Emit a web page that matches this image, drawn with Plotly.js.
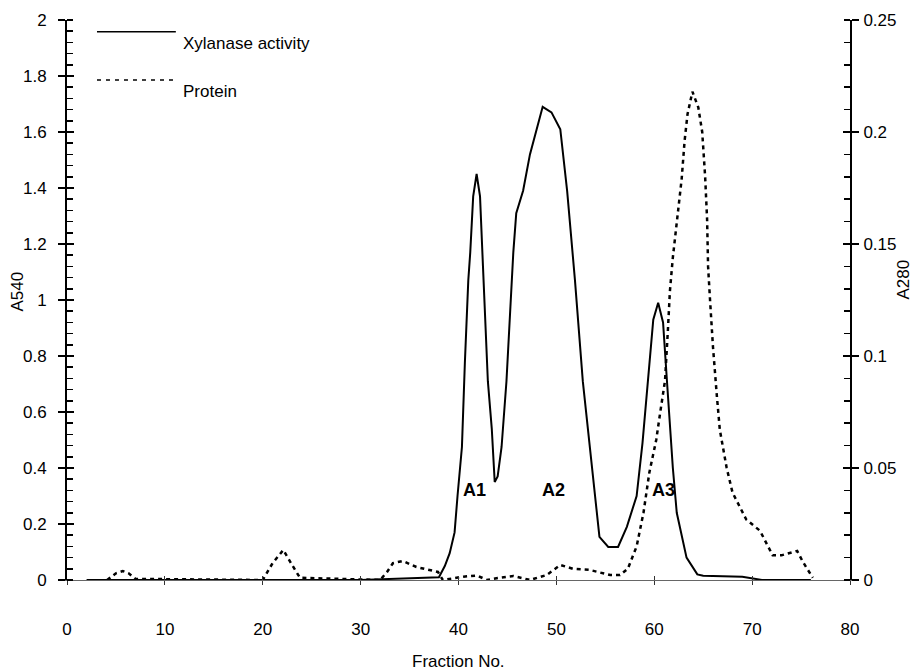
<!DOCTYPE html>
<html>
<head>
<meta charset="utf-8">
<script src="https://cdn.plot.ly/plotly-3.0.1.min.js"></script>
<style>
html,body{margin:0;padding:0;background:#fff;}
#chart{width:913px;height:671px;}
</style>
</head>
<body>
<div id="chart"></div>
<script>
// Xylanase activity (A540), left axis
const activityFraction = [2, 10, 20, 30, 38.0, 38.6, 39.1, 39.6, 39.9, 40.35, 40.65, 41.0, 41.2, 41.5, 41.85, 42.2, 42.5, 43.0, 43.4, 43.7, 44.0, 44.4, 44.9, 45.25, 45.6, 45.9, 46.6, 47.3, 48.0, 48.6, 49.5, 50.4, 51.1, 51.4, 51.9, 52.7, 53.4, 54.1, 54.4, 55.3, 56.3, 57.2, 58.2, 58.8, 59.6, 59.9, 60.4, 60.9, 61.3, 61.9, 62.3, 63.3, 64.4, 65, 69, 71, 76];
const activityA540 = [0, 0, 0, 0, 0.01, 0.05, 0.096, 0.17, 0.30, 0.475, 0.775, 1.07, 1.17, 1.37, 1.45, 1.37, 1.12, 0.71, 0.54, 0.35, 0.37, 0.475, 0.71, 0.95, 1.17, 1.31, 1.39, 1.52, 1.61, 1.69, 1.67, 1.61, 1.39, 1.28, 1.07, 0.71, 0.475, 0.24, 0.154, 0.118, 0.118, 0.19, 0.30, 0.49, 0.83, 0.93, 0.99, 0.92, 0.71, 0.40, 0.24, 0.08, 0.02, 0.015, 0.012, 0, 0];

// Protein (A280), right axis
const proteinFraction = [4.1, 5.0, 5.7, 6.3, 7.0, 20.0, 21.0, 22.1, 23.0, 23.8, 32.0, 32.7, 33.3, 34.3, 35.7, 37.1, 37.9, 38.4, 40.5, 41.9, 42.9, 44.0, 45.6, 47.3, 49.0, 50.4, 51.7, 53.4, 55.5, 56.5, 57.3, 58.2, 58.9, 59.5, 60.2, 60.6, 61.1, 61.4, 61.6, 61.9, 62.4, 62.8, 63.1, 63.4, 63.9, 64.5, 64.9, 65.2, 65.4, 65.5, 65.7, 66.0, 66.4, 66.7, 67.4, 68.0, 69.4, 70.8, 72.1, 73.0, 74.6, 75.2, 76.2];
const proteinA280 = [0, 0.003, 0.004, 0.003, 0.0005, 0, 0.0075, 0.0134, 0.0067, 0.001, 0, 0.0036, 0.0075, 0.0085, 0.0058, 0.0045, 0.0036, 0, 0.0015, 0.002, 0, 0.0009, 0.0018, 0, 0.0022, 0.0067, 0.005, 0.0045, 0.0022, 0.0022, 0.005, 0.015, 0.030, 0.048, 0.0625, 0.0745, 0.089, 0.112, 0.129, 0.144, 0.164, 0.179, 0.196, 0.208, 0.218, 0.211, 0.2, 0.18, 0.161, 0.14, 0.125, 0.104, 0.082, 0.067, 0.050, 0.039, 0.027, 0.022, 0.011, 0.011, 0.013, 0.008, 0.001];

// Peak labels
const peakLabels = ["A1", "A2", "A3"];
const peakLabelX = [41.6, 49.7, 60.9];
const peakLabelY = [0.32, 0.32, 0.32];

const xTicks = [0, 10, 20, 30, 40, 50, 60, 70, 80];
const FONT = "Liberation Sans, Arial, sans-serif";
const FS = 17;

const traces = [
  {x: activityFraction, y: activityA540, type: "scatter", mode: "lines", name: "Xylanase activity",
   line: {color: "#000", width: 2}, yaxis: "y", showlegend: false},
  {x: proteinFraction, y: proteinA280, type: "scatter", mode: "lines", name: "Protein",
   line: {color: "#000", width: 2.5, dash: "4px,4px"}, yaxis: "y2", showlegend: false}
];

const annotations = peakLabels.map((t, i) => ({
  x: peakLabelX[i], y: peakLabelY[i], xref: "x", yref: "y", text: "<b>" + t + "</b>",
  showarrow: false, font: {family: FONT, size: 18, color: "#000"}
}));
annotations.push(
  {xref: "paper", yref: "paper", x: -0.0626, y: 0.515, xanchor: "center", yanchor: "middle",
   text: "A540", textangle: -90, showarrow: false, font: {family: FONT, size: FS, color: "#000"}},
  {xref: "paper", yref: "paper", x: 1.068, y: 0.537, xanchor: "center", yanchor: "middle",
   text: "A280", textangle: -90, showarrow: false, font: {family: FONT, size: FS, color: "#000"}},
  {xref: "paper", yref: "paper", x: 0.5, y: -0.145, yanchor: "middle", text: "Fraction No.", showarrow: false,
   font: {family: FONT, size: FS, color: "#000"}},
  {xref: "paper", yref: "paper", x: 0.146, y: 0.979, xanchor: "left", text: "Xylanase activity", showarrow: false,
   font: {family: FONT, size: FS, color: "#000"}},
  {xref: "paper", yref: "paper", x: 0.146, y: 0.893, xanchor: "left", text: "Protein", showarrow: false,
   font: {family: FONT, size: FS, color: "#000"}}
);

const shapes = [
  {type: "line", xref: "paper", yref: "paper", x0: 0.0383, x1: 0.139, y0: 0.979, y1: 0.979,
   line: {color: "#000", width: 1.5}},
  {type: "line", xref: "paper", yref: "paper", x0: 0.0383, x1: 0.139, y0: 0.893, y1: 0.893,
   line: {color: "#000", width: 1.5, dash: "4px,5px"}}
];

const layout = {
  width: 913, height: 671,
  margin: {l: 67, r: 63, t: 20, b: 91},
  paper_bgcolor: "#fff", plot_bgcolor: "#fff",
  font: {family: FONT, size: FS, color: "#000"},
  showlegend: false,
  xaxis: {
    range: [0, 80], tickvals: xTicks, ticktext: xTicks.map(String),
    showgrid: false, zeroline: false, showline: true, linecolor: "#666", linewidth: 1,
    ticks: "outside", ticklen: 4, tickcolor: "#333", tickwidth: 1,
    ticklabelstandoff: 30, tickfont: {family: FONT, size: FS, color: "#000"}
  },
  xaxis2: {
    range: [0, 80], overlaying: "x", side: "bottom", tickvals: xTicks, showticklabels: false,
    showgrid: false, zeroline: false, showline: false,
    ticks: "inside", ticklen: 4, tickcolor: "#333", tickwidth: 1
  },
  yaxis: {
    range: [0, 2], dtick: 0.2, tick0: 0, showgrid: false, zeroline: false,
    showline: true, linecolor: "#000", linewidth: 2,
    ticks: "outside", ticklen: 7, tickwidth: 1.5, tickcolor: "#000",
    minor: {dtick: 0.04, ticks: "inside", ticklen: 6, tickwidth: 1.5, tickcolor: "#000", showgrid: false},
    tickfont: {family: FONT, size: FS, color: "#000"}, ticklabelstandoff: 8,
    tickformat: "~g"
  },
  yaxis2: {
    range: [0, 0.25], dtick: 0.05, tick0: 0, overlaying: "y", side: "right", anchor: "x",
    showgrid: false, zeroline: false, showline: true, linecolor: "#000", linewidth: 2,
    ticks: "outside", ticklen: 7, tickwidth: 1.5, tickcolor: "#000",
    minor: {dtick: 0.01, ticks: "inside", ticklen: 6, tickwidth: 1.5, tickcolor: "#000", showgrid: false},
    tickfont: {family: FONT, size: FS, color: "#000"}, ticklabelstandoff: 1,
    tickformat: "~g"
  },
  yaxis3: {
    range: [0, 2], dtick: 0.2, overlaying: "y", side: "left", anchor: "x", showticklabels: false,
    showgrid: false, zeroline: false, showline: false,
    ticks: "inside", ticklen: 7, tickwidth: 1.5, tickcolor: "#000"
  },
  yaxis4: {
    range: [0, 0.25], dtick: 0.05, overlaying: "y", side: "right", anchor: "x", showticklabels: false,
    showgrid: false, zeroline: false, showline: false,
    ticks: "inside", ticklen: 7, tickwidth: 1.5, tickcolor: "#000"
  },
  annotations: annotations,
  shapes: shapes
};

// Invisible helper traces so the overlay tick axes are drawn
traces.push({x: [0], y: [0], xaxis: "x2", yaxis: "y3", mode: "markers", marker: {opacity: 0}, hoverinfo: "skip", showlegend: false});
traces.push({x: [0], y: [0], xaxis: "x2", yaxis: "y4", mode: "markers", marker: {opacity: 0}, hoverinfo: "skip", showlegend: false});

Plotly.newPlot("chart", traces, layout, {staticPlot: true, displayModeBar: false});
</script>
</body>
</html>
